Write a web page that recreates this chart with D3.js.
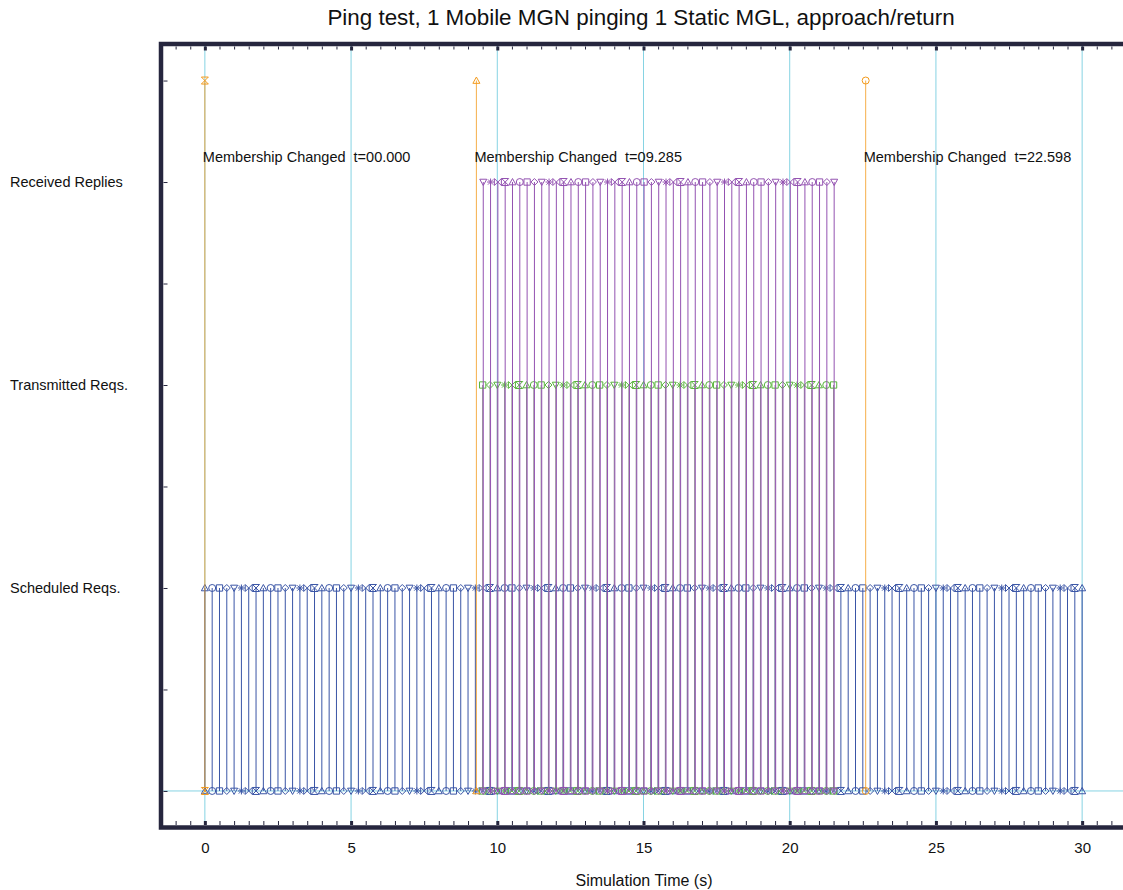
<!DOCTYPE html>
<html>
<head>
<meta charset="utf-8">
<script src="https://cdn.jsdelivr.net/npm/d3@7"></script>
<style>
  body { margin: 0; background: #fff; }
  text { font-family: "Liberation Sans", Arial, sans-serif; fill: #111; }
</style>
</head>
<body>
<div class="chart"></div>
<script>
"use strict";

const WIDTH = 1123, HEIGHT = 890;

// DATA ----------------------------
const TITLE = "Ping test, 1 Mobile MGN pinging 1 Static MGL, approach/return";
const X_TITLE = "Simulation Time (s)";
const rowLabels = ["Scheduled Reqs.", "Transmitted Reqs.", "Received Replies"];
const rowLevels = [1, 2, 3];
const xTickLabels = [0, 5, 10, 15, 20, 25, 30];

// ping schedule times (s)
const scheduledTimes = [
  0, 0.25, 0.5, 0.75, 1, 1.25, 1.5, 1.75, 2, 2.25, 2.5, 2.75,
  3, 3.25, 3.5, 3.75, 4, 4.25, 4.5, 4.75, 5, 5.25, 5.5, 5.75,
  6, 6.25, 6.5, 6.75, 7, 7.25, 7.5, 7.75, 8, 8.25, 8.5, 8.75,
  9, 9.25, 9.5, 9.75, 10, 10.25, 10.5, 10.75, 11, 11.25, 11.5, 11.75,
  12, 12.25, 12.5, 12.75, 13, 13.25, 13.5, 13.75, 14, 14.25, 14.5, 14.75,
  15, 15.25, 15.5, 15.75, 16, 16.25, 16.5, 16.75, 17, 17.25, 17.5, 17.75,
  18, 18.25, 18.5, 18.75, 19, 19.25, 19.5, 19.75, 20, 20.25, 20.5, 20.75,
  21, 21.25, 21.5, 21.75, 22, 22.25, 22.5, 22.75, 23, 23.25, 23.5, 23.75,
  24, 24.25, 24.5, 24.75, 25, 25.25, 25.5, 25.75, 26, 26.25, 26.5, 26.75,
  27, 27.25, 27.5, 27.75, 28, 28.25, 28.5, 28.75, 29, 29.25, 29.5, 29.75,
  30
];
const transmittedTimes = [
  9.5, 9.75, 10, 10.25, 10.5, 10.75, 11, 11.25, 11.5, 11.75,
  12, 12.25, 12.5, 12.75, 13, 13.25, 13.5, 13.75, 14, 14.25, 14.5, 14.75,
  15, 15.25, 15.5, 15.75, 16, 16.25, 16.5, 16.75, 17, 17.25, 17.5, 17.75,
  18, 18.25, 18.5, 18.75, 19, 19.25, 19.5, 19.75, 20, 20.25, 20.5, 20.75,
  21, 21.25, 21.5
];
const receivedTimes = [
  9.52, 9.77, 10.02, 10.27, 10.52, 10.77, 11.02, 11.27, 11.52, 11.77,
  12.02, 12.27, 12.52, 12.77, 13.02, 13.27, 13.52, 13.77, 14.02, 14.27, 14.52, 14.77,
  15.02, 15.27, 15.52, 15.77, 16.02, 16.27, 16.52, 16.77, 17.02, 17.27, 17.52, 17.77,
  18.02, 18.27, 18.52, 18.77, 19.02, 19.27, 19.52, 19.77, 20.02, 20.27, 20.52, 20.77,
  21.02, 21.27, 21.52
];
const membershipTimes = [0, 9.285, 22.598];
const membershipShapes = [7, 0, 1];
const membershipLevel = 3.5;

// CHART INIT ----------------------------
const svg = d3
  .select(".chart")
  .append("svg")
  .attr("width", WIDTH)
  .attr("height", HEIGHT);

const xScale = d3.scaleLinear().domain([-1.5, 31.5]).range([161, 1126]);
const yScale = d3.scaleLinear().domain([-0.18, 3.68]).range([827.5, 44]);

// marker shapes: up-triangle, circle, square, diamond, down-triangle, asterisk, bowtie, hourglass
const R = 3.5;
const shapeTypes = [
  { draw(c) { c.moveTo(0, -R); c.lineTo(R, R * 0.8); c.lineTo(-R, R * 0.8); c.closePath(); } },
  { draw(c) { c.moveTo(R, 0); c.arc(0, 0, R, 0, 2 * Math.PI); } },
  { draw(c) { c.rect(-R * 0.9, -R * 0.9, R * 1.8, R * 1.8); } },
  { draw(c) { c.moveTo(0, -R); c.lineTo(R, 0); c.lineTo(0, R); c.lineTo(-R, 0); c.closePath(); } },
  { draw(c) { c.moveTo(0, R); c.lineTo(R, -R * 0.8); c.lineTo(-R, -R * 0.8); c.closePath(); } },
  { draw(c) {
      c.moveTo(0, -R); c.lineTo(0, R); c.moveTo(-R, 0); c.lineTo(R, 0);
      c.moveTo(-R * 0.75, -R * 0.75); c.lineTo(R * 0.75, R * 0.75);
      c.moveTo(-R * 0.75, R * 0.75); c.lineTo(R * 0.75, -R * 0.75);
  } },
  { draw(c) { c.moveTo(-R, -R); c.lineTo(R, R); c.lineTo(R, -R); c.lineTo(-R, R); c.closePath(); } },
  { draw(c) { c.moveTo(-R, -R); c.lineTo(R, -R); c.lineTo(-R, R); c.lineTo(R, R); c.closePath(); } }
];
const symbolFor = (i) => d3.symbol().type(shapeTypes[i % 8])();

// GRID ----------------------------
const grid = svg.append("g").attr("class", "grid");
grid
  .selectAll("line.vgrid")
  .data(xTickLabels)
  .join("line")
  .attr("class", "vgrid")
  .attr("x1", (d) => xScale(d))
  .attr("x2", (d) => xScale(d))
  .attr("y1", 46)
  .attr("y2", 825)
  .attr("stroke", "#86d3e3")
  .attr("stroke-width", 1);

grid
  .append("line")
  .attr("x1", 163)
  .attr("x2", 1124)
  .attr("y1", yScale(0))
  .attr("y2", yScale(0))
  .attr("stroke", "#86d3e3")
  .attr("stroke-width", 1);

// IMPULSE SERIES ----------------------------
function impulses(times, level, lineColor, markColor, shapeOffset, cls) {
  const g = svg.append("g").attr("class", cls);
  g.selectAll("line")
    .data(times)
    .join("line")
    .attr("x1", (d) => xScale(d))
    .attr("x2", (d) => xScale(d))
    .attr("y1", yScale(0))
    .attr("y2", yScale(level))
    .attr("stroke", lineColor)
    .attr("stroke-width", 1);

  [0, level].forEach((lv) => {
    g.selectAll(null)
      .data(times)
      .join("path")
      .attr("transform", (d) => `translate(${xScale(d)},${yScale(lv)})`)
      .attr("d", (d, i) => symbolFor(i + shapeOffset))
      .attr("fill", "none")
      .attr("stroke", markColor)
      .attr("stroke-width", 1);
  });
}

impulses(scheduledTimes, 1, "#3a55a6", "#3a55a6", 0, "scheduled");
impulses(transmittedTimes, 2, "#8f8f8f", "#58b43c", 2, "transmitted");
impulses(receivedTimes, 3, "#9352b1", "#9352b1", 4, "received");

// MEMBERSHIP CHANGES ----------------------------
const mem = svg.append("g").attr("class", "membership");
mem
  .selectAll("line")
  .data(membershipTimes)
  .join("line")
  .attr("x1", (d) => xScale(d))
  .attr("x2", (d) => xScale(d))
  .attr("y1", yScale(0))
  .attr("y2", yScale(membershipLevel))
  .attr("stroke", "#f39a1c")
  .attr("stroke-opacity", 0.8)
  .attr("stroke-width", 1);

[0, membershipLevel].forEach((lv) => {
  mem
    .selectAll(null)
    .data(membershipTimes)
    .join("path")
    .attr("transform", (d) => `translate(${xScale(d)},${yScale(lv)})`)
    .attr("d", (d, i) => symbolFor(membershipShapes[i]))
    .attr("fill", "none")
    .attr("stroke", "#f39a1c")
    .attr("stroke-width", 1);
});

mem
  .selectAll("text")
  .data(membershipTimes)
  .join("text")
  .attr("x", (d) => xScale(d) - 2)
  .attr("y", yScale(3.1))
  .attr("font-size", 14.5)
  .attr("xml:space", "preserve")
  .text((d) => "Membership Changed  t=" + d3.format("06.3f")(d));

// FRAME + AXES ----------------------------
svg
  .append("rect")
  .attr("x", 161)
  .attr("y", 44)
  .attr("width", 1126 - 161)
  .attr("height", 827.5 - 44)
  .attr("fill", "none")
  .attr("stroke", "#26263e")
  .attr("stroke-width", 4.5);

const minorX = d3.range(-3, 64).map((d) => d / 2);
const majorX = xTickLabels;

function xTicks(axisFn, yPos, len, values, width) {
  const g = svg
    .append("g")
    .attr("transform", `translate(0,${yPos})`)
    .call(axisFn(xScale).tickValues(values).tickSize(len).tickFormat(""));
  g.select(".domain").remove();
  g.selectAll(".tick line").attr("stroke", "#26263e").attr("stroke-width", width);
  return g;
}
xTicks(d3.axisBottom, 825, -4, minorX, 1);
xTicks(d3.axisTop, 46.5, -3, minorX, 1);
xTicks(d3.axisBottom, 825, -4, majorX, 3);
xTicks(d3.axisTop, 46.5, -4, majorX, 3);

const minorY = d3.range(0, 8).map((d) => d / 2);
const yLeft = svg
  .append("g")
  .attr("transform", "translate(163.5,0)")
  .call(d3.axisLeft(yScale).tickValues(minorY).tickSize(-4).tickFormat(""));
yLeft.select(".domain").remove();
yLeft.selectAll(".tick line").attr("stroke", "#26263e").attr("stroke-width", 1);

// x tick labels
const xLabels = svg
  .append("g")
  .attr("transform", "translate(0,827.5)")
  .call(d3.axisBottom(xScale).tickValues(xTickLabels).tickSize(0).tickPadding(15));
xLabels.select(".domain").remove();
xLabels
  .selectAll("text")
  .attr("font-size", 15)
  .attr("font-family", "Liberation Sans, Arial, sans-serif")
  .attr("fill", "#111");

// row labels
svg
  .append("g")
  .selectAll("text")
  .data(rowLabels)
  .join("text")
  .attr("x", 10)
  .attr("y", (d, i) => yScale(rowLevels[i]) + 5)
  .attr("font-size", 14.5)
  .text((d) => d);

// titles
svg
  .append("text")
  .attr("x", 641)
  .attr("y", 25)
  .attr("text-anchor", "middle")
  .attr("font-size", 22.4)
  .text(TITLE);

svg
  .append("text")
  .attr("x", 644)
  .attr("y", 886)
  .attr("text-anchor", "middle")
  .attr("font-size", 16)
  .text(X_TITLE);
</script>
</body>
</html>
